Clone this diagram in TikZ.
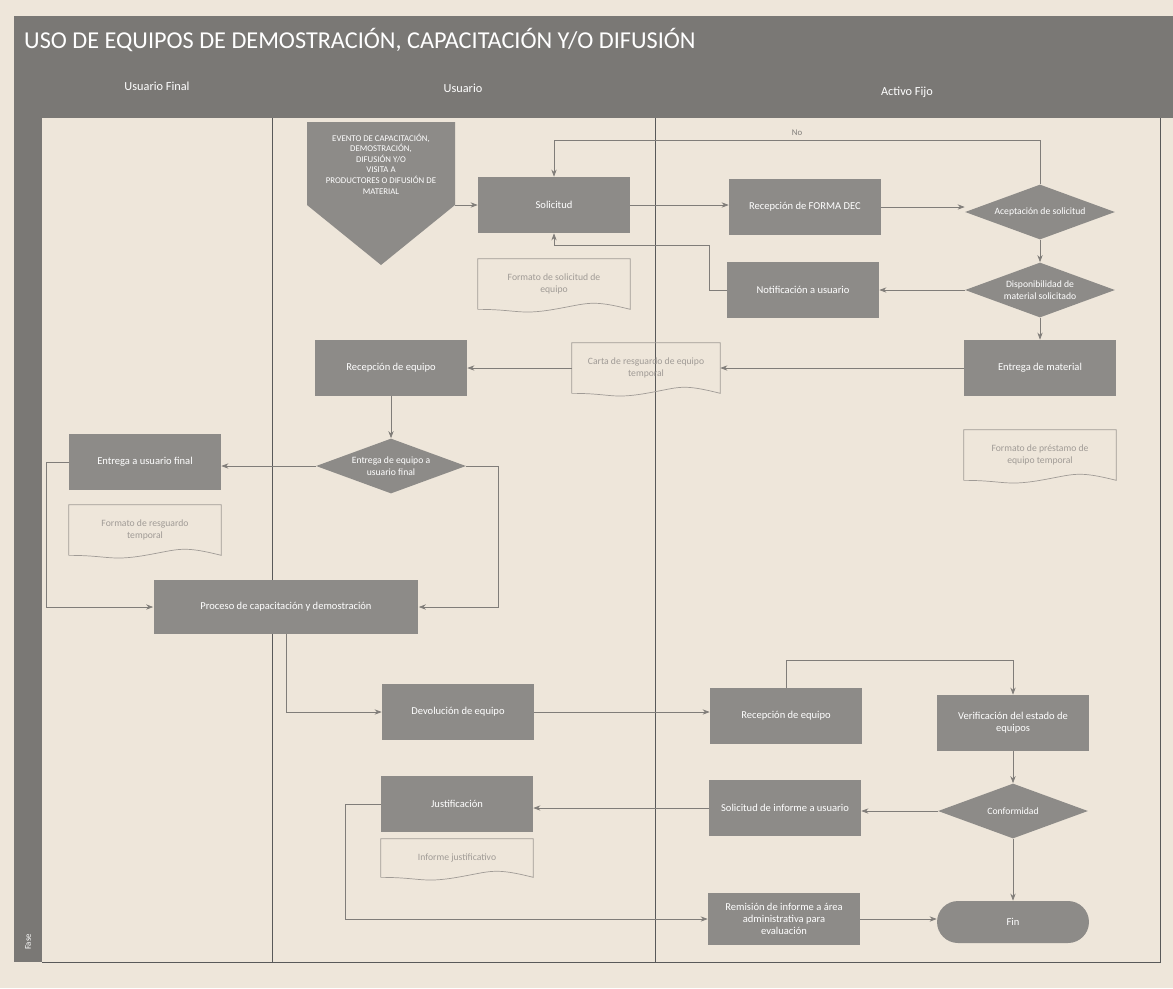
\documentclass[tikz,border=0pt]{standalone}
\usepackage{fontspec}
\setmainfont{Carlito}
\usetikzlibrary{arrows.meta,shapes.geometric}

\definecolor{paper}{RGB}{238,230,218}
\definecolor{bargray}{RGB}{122,120,117}
\definecolor{boxgray}{RGB}{141,139,136}
\definecolor{linegray}{RGB}{128,125,121}
\definecolor{docgray}{RGB}{160,155,150}

\tikzset{
  proc/.style={rectangle, fill=boxgray, text=white, font=\fontsize{6}{7}\selectfont, align=center, minimum width=3.04cm, minimum height=1.12cm, inner sep=2pt},
  decis/.style={diamond, fill=boxgray, minimum width=3cm, minimum height=1.1cm, inner sep=0pt},
  dtext/.style={text=white, font=\fontsize{5.5}{6.5}\selectfont, align=center, inner sep=0pt},
  docbox/.style={rectangle, text=docgray, font=\fontsize{5.5}{6.5}\selectfont, align=center, minimum width=3.04cm, minimum height=1cm},
  docline/.style={draw=docgray, line width=0.4pt},
  finbox/.style={rectangle, rounded corners=0.42cm, fill=boxgray, text=white, font=\fontsize{6}{7}\selectfont, minimum width=3.04cm, minimum height=0.84cm},
  flow/.style={draw=linegray, line width=0.4pt, -{Stealth[length=4pt,width=3pt]}},
  lane/.style={draw=black!65, line width=0.5pt},
  titletext/.style={text=white, font=\fontsize{13.8}{15}\selectfont},
  lanetext/.style={text=white, font=\fontsize{7}{8}\selectfont},
}

\newcommand\docoutline[1]{\draw[docline] (#1.south west) -- (#1.north west) -- (#1.north east) -- (#1.south east) .. controls +(-40,-10) and +(35,-6) .. (#1.south) .. controls +(-35,6) and +(40,0) .. (#1.south west);}

\begin{document}
\begin{tikzpicture}[x=0.02cm,y=-0.02cm]
\useasboundingbox (0,0) rectangle (1173,988);
\fill[paper] (0,0) rectangle (1173,988);
\fill[bargray] (14,16) rectangle (1173,118);
\fill[bargray] (14,118) rectangle (42,962);
\draw[lane] (42,962) -- (1160,962) -- (1160,118);
\draw[lane] (272,118) -- (272,962);
\draw[lane] (655,118) -- (655,962);

\node[titletext, anchor=west] (titulo) at (18,40) {USO DE EQUIPOS DE DEMOSTRACIÓN, CAPACITACIÓN Y/O DIFUSIÓN};
\node[lanetext] (hfinal) at (157,86) {Usuario Final};
\node[lanetext] (husuario) at (463,88) {Usuario};
\node[lanetext] (hactivo) at (907,92) {Activo Fijo};
\node[lanetext, rotate=90, font=\fontsize{5}{6}\selectfont] (fase) at (28,942) {Fase};

\fill[boxgray] (307,122) -- (455,122) -- (455,205) -- (381,265) -- (307,205) -- cycle;
\node[dtext, font=\fontsize{5}{6}\selectfont, minimum width=2.96cm] (evento) at (381,164) {EVENTO DE CAPACITACIÓN,\\ DEMOSTRACIÓN,\\ DIFUSIÓN Y/O\\ VISITA A\\ PRODUCTORES O DIFUSIÓN DE\\ MATERIAL};

\node[proc] (solic) at (554,205) {Solicitud};
\node[docbox] (solicdoc) at (554,284) {Formato de solicitud de\\ equipo};
\node[proc] (forma) at (805,207) {Recepción de FORMA DEC};
\node[decis, label={[dtext]center:Aceptación de solicitud}] (acept) at (1040,212) {};
\node[proc] (notif) at (803,290) {Notificación a usuario};
\node[decis, label={[dtext]center:{Disponibilidad de\\ material solicitado}}] (dispo) at (1040,290) {};
\node[proc] (entmat) at (1040,368) {Entrega de material};
\node[docbox] (entmatdoc) at (1040,455) {Formato de préstamo de\\ equipo temporal};
\node[docbox, minimum width=2.96cm] (carta) at (646,368) {Carta de resguardo de equipo\\ temporal};
\node[proc] (recep) at (391,368) {Recepción de equipo};

\node[decis, label={[dtext]center:{Entrega de equipo a\\ usuario final}}] (deciuf) at (391,466) {};
\node[proc] (entuf) at (145,462) {Entrega a usuario final};
\node[docbox] (entufdoc) at (145,530) {Formato de resguardo\\ temporal};
\node[proc, minimum width=5.3cm, minimum height=1.08cm] (proceso) at (286,607) {Proceso de capacitación y demostración};

\node[proc] (devol) at (458,712) {Devolución de equipo};
\node[proc] (recepaf) at (786,716) {Recepción de equipo};
\node[proc] (verif) at (1013,723) {Verificación del estado de\\ equipos};
\node[decis, label={[dtext]center:Conformidad}] (conf) at (1013,811) {};
\node[proc] (solinf) at (785,808) {Solicitud de informe a usuario};
\node[proc] (justif) at (457,804) {Justificación};
\node[docbox, minimum height=0.76cm] (justifdoc) at (457,858) {Informe justificativo};
\node[proc, minimum height=1.04cm] (remis) at (784,919) {Remisión de informe a área\\ administrativa para\\ evaluación};
\node[finbox] (fin) at (1013,922) {Fin};

\docoutline{solicdoc}
\docoutline{entmatdoc}
\docoutline{carta}
\docoutline{entufdoc}
\docoutline{justifdoc}

\draw[flow] (evento.east |- solic.west) -- (solic.west);
\draw[flow] (solic.east) -- (forma.west |- solic.east);
\draw[flow] (forma.east) -- (acept.west |- forma.east);
\draw[flow] (acept.north) -- ++(0,-44) -| node[pos=0.25, above=-1pt, text=linegray, font=\fontsize{5}{6}\selectfont] {No} (solic.north);
\draw[flow] (acept.south) -- (dispo.north);
\draw[flow] (dispo.west) -- (notif.east);
\draw[flow] (notif.west) -- ++(-17,0) -- ++(0,-45) -| (solic.south);
\draw[flow] (dispo.south) -- (entmat.north);
\draw[flow] (entmat.west) -- (carta.east);
\draw[flow] (carta.west) -- (recep.east);
\draw[flow] (recep.south) -- (deciuf.north);
\draw[flow] (deciuf.west) -- (entuf.east |- deciuf.west);
\draw[flow] (deciuf.east) -- ++(32,0) |- (proceso.east);
\draw[flow] (entuf.west) -- ++(-22,0) |- (proceso.west);
\draw[flow] (proceso.south) |- (devol.west);
\draw[flow] (devol.east) -- (recepaf.west |- devol.east);
\draw[flow] (recepaf.north) -- ++(0,-27) -| (verif.north);
\draw[flow] (verif.south) -- (conf.north);
\draw[flow] (conf.west) -- (solinf.east |- conf.west);
\draw[flow] (solinf.west) -- (justif.east |- solinf.west);
\draw[flow] (justif.west) -- ++(-35,0) |- (remis.west);
\draw[flow] (remis.east) -- (fin.west |- remis.east);
\draw[flow] (conf.south) -- (fin.north);
\end{tikzpicture}
\end{document}
